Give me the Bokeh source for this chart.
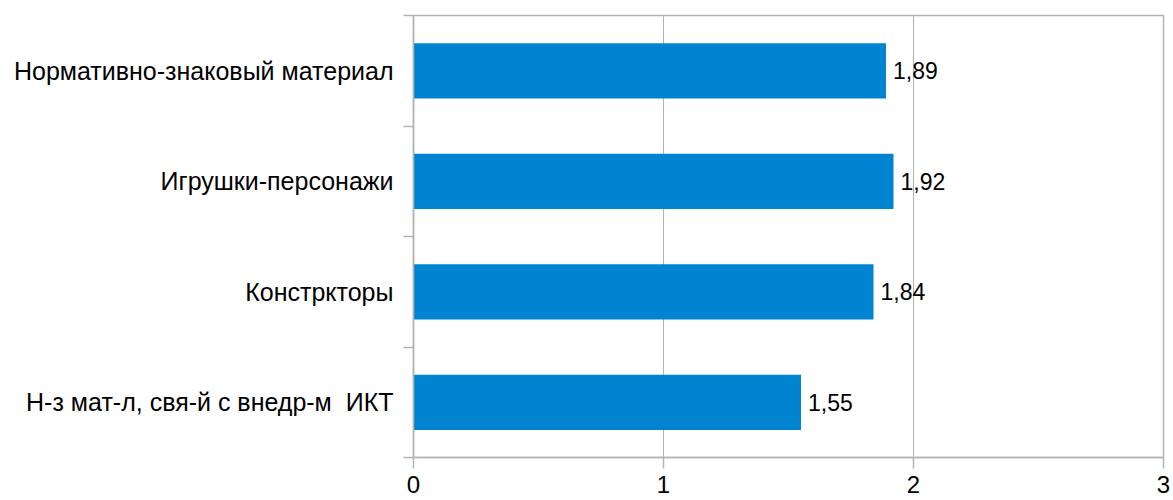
from bokeh.plotting import figure
from bokeh.models import ColumnDataSource, FixedTicker, LabelSet
from bokeh.core.properties import value
from bokeh.embed import file_html
from bokeh.resources import INLINE

# data (top to bottom as shown)
categories = ["Нормативно-знаковый материал", "Игрушки-персонажи", "Констркторы",
              "Н-з мат-л, свя-й с внедр-м\u00a0 ИКТ"]
values = [1.89, 1.92, 1.84, 1.55]
value_labels = ["1,89", "1,92", "1,84", "1,55"]
x_ticks = [0, 1, 2, 3]

n = len(categories)
# position index from bottom (0.5, 1.5, ...)
ypos = [n - i - 0.5 for i in range(n)]

src = ColumnDataSource(dict(y=ypos, v=values, lab=value_labels, cat=categories))

FONT = "Liberation Sans"
GRID = "#b3b3b3"

p = figure(width=1173, height=500, output_backend="svg", toolbar_location=None,
           x_range=(0, 3), y_range=(0, n),
           min_border_left=413, min_border_right=10, min_border_top=15, min_border_bottom=43)
p.outline_line_color = GRID
p.outline_line_width = 1.5

p.hbar(y="y", right="v", left=0, height=0.5, source=src, color="#0084d1", line_color=None)

labels = LabelSet(x="v", y="y", text="lab", source=src, x_offset=7, y_offset=0,
                  text_baseline="middle", text_align="left",
                  text_font=value(FONT), text_font_size="23px", text_color="black")
p.add_layout(labels)

# x axis
p.xaxis.ticker = FixedTicker(ticks=x_ticks, minor_ticks=[])
p.xaxis.axis_line_color = GRID
p.xaxis.axis_line_width = 1.5
p.xaxis.major_tick_line_color = GRID
p.xaxis.major_tick_line_width = 1.5
p.xaxis.major_tick_out = 11
p.xaxis.major_tick_in = 0
p.xaxis.major_label_standoff = 7
p.xaxis.major_label_text_font = FONT
p.xaxis.major_label_text_font_size = "24px"
p.xaxis.major_label_text_color = "black"

# y axis: labels at centers, ticks at boundaries
p.yaxis.ticker = FixedTicker(ticks=ypos, minor_ticks=list(range(n + 1)))
p.yaxis.major_label_overrides = {y: c for y, c in zip(ypos, categories)}
p.yaxis.axis_line_color = GRID
p.yaxis.axis_line_width = 1.5
p.yaxis.major_tick_line_color = None
p.yaxis.major_tick_out = 0
p.yaxis.major_tick_in = 0
p.yaxis.minor_tick_line_color = GRID
p.yaxis.minor_tick_line_width = 1.5
p.yaxis.minor_tick_out = 10
p.yaxis.minor_tick_in = 0
p.yaxis.major_label_standoff = 10
p.yaxis.major_label_text_font = FONT
p.yaxis.major_label_text_font_size = "25px"
p.yaxis.major_label_text_color = "black"

p.xgrid.grid_line_color = GRID
p.xgrid.grid_line_width = 1
p.ygrid.grid_line_color = None

open("out.html", "w").write(file_html(p, INLINE))
